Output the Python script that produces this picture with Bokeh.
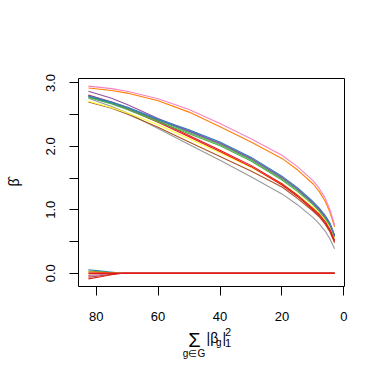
import math
from bokeh.plotting import figure
from bokeh.models import Range1d, FixedTicker, CustomJSTickFormatter, Label
from bokeh.embed import file_html
from bokeh.resources import INLINE

# ---- data ----
x_path = [82.5, 75, 70, 60, 50, 40, 30, 20, 15, 10, 8, 6, 4.5, 3]
pink    = [2.95, 2.91, 2.87, 2.75, 2.58, 2.36, 2.12, 1.86, 1.68, 1.46, 1.34, 1.18, 1.00, 0.76]
orange  = [2.92, 2.88, 2.84, 2.72, 2.54, 2.31, 2.07, 1.81, 1.63, 1.41, 1.29, 1.13, 0.96, 0.73]
blue    = [2.80, 2.70, 2.62, 2.43, 2.26, 2.07, 1.83, 1.53, 1.35, 1.13, 1.03, 0.91, 0.79, 0.60]
blue2   = [2.79, 2.69, 2.61, 2.42, 2.24, 2.05, 1.81, 1.51, 1.33, 1.11, 1.01, 0.89, 0.78, 0.59]
green   = [2.78, 2.68, 2.60, 2.41, 2.22, 2.03, 1.79, 1.49, 1.31, 1.10, 1.00, 0.88, 0.77, 0.58]
green2  = [2.77, 2.67, 2.58, 2.39, 2.20, 2.01, 1.77, 1.47, 1.29, 1.08, 0.98, 0.86, 0.75, 0.57]
purple  = [2.87, 2.76, 2.66, 2.44, 2.24, 2.05, 1.81, 1.51, 1.33, 1.11, 1.01, 0.89, 0.78, 0.59]
red     = [2.81, 2.70, 2.61, 2.40, 2.17, 1.94, 1.70, 1.41, 1.23, 1.02, 0.93, 0.81, 0.69, 0.52]
red2    = [2.80, 2.68, 2.59, 2.38, 2.15, 1.92, 1.68, 1.39, 1.21, 1.00, 0.91, 0.79, 0.67, 0.50]
yellow  = [2.71, 2.61, 2.53, 2.34, 2.12, 1.90, 1.67, 1.41, 1.24, 1.04, 0.95, 0.84, 0.72, 0.56]
brown   = [2.70, 2.60, 2.51, 2.30, 2.07, 1.84, 1.61, 1.36, 1.18, 0.98, 0.89, 0.77, 0.65, 0.48]
gray    = [2.76, 2.63, 2.53, 2.28, 2.03, 1.78, 1.52, 1.25, 1.08, 0.88, 0.78, 0.66, 0.54, 0.385]

x_zero = [82.5, 79, 76, 73, 71, 3]
z_blue   = [0.055, 0.037, 0.020, 0.006, 0.0, 0.0]
z_green  = [0.035, 0.024, 0.013, 0.004, 0.0, 0.0]
z_orange = [0.020, 0.014, 0.007, 0.002, 0.0, 0.0]
z_yellow = [-0.015, -0.010, -0.005, -0.002, 0.0, 0.0]
z_purple = [-0.035, -0.024, -0.013, -0.004, 0.0, 0.0]
z_pink   = [-0.050, -0.034, -0.018, -0.005, 0.0, 0.0]
z_brown  = [-0.065, -0.044, -0.024, -0.007, 0.0, 0.0]
z_red    = [-0.090, -0.061, -0.033, -0.010, 0.0, 0.0]
x_flat = [82.5, 3]
flat_red = [0.0, 0.0]

x_ticks = [0, 20, 40, 60, 80]
y_ticks = [0.0, 0.5, 1.0, 1.5, 2.0, 2.5, 3.0]

C = dict(red="#E41A1C", blue="#377EB8", green="#4DAF4A", purple="#984EA3",
         orange="#FF7F00", yellow="#FFFF33", brown="#A65628", pink="#F781BF",
         gray="#999999")

X0, X1 = 85.7, -0.2
Y0, Y1 = -0.21, 3.07
FW, FH = 266, 208
BL, BT = 78, 78

p = figure(frame_width=FW, frame_height=FH, output_backend="svg", toolbar_location=None,
           x_range=Range1d(X0, X1), y_range=Range1d(Y0, Y1),
           min_border_left=BL, min_border_top=BT, min_border_right=32, min_border_bottom=90)
p.background_fill_color = "white"
p.border_fill_color = "white"
p.outline_line_color = "black"
p.outline_line_width = 1
p.grid.visible = False

FONT = "Liberation Sans"
for ax in (p.xaxis[0], p.yaxis[0]):
    ax.axis_line_color = None
    ax.major_tick_line_color = "black"
    ax.major_tick_in = 0
    ax.major_tick_out = 9
    ax.minor_tick_line_color = None
    ax.major_label_text_font = FONT
    ax.major_label_text_font_size = "13px"
    ax.major_label_text_color = "black"
p.xaxis.major_label_standoff = 16
p.yaxis.major_label_standoff = 14

p.xaxis.ticker = FixedTicker(ticks=x_ticks)
p.yaxis.ticker = FixedTicker(ticks=y_ticks)
p.yaxis.formatter = CustomJSTickFormatter(
    code="return (Math.abs(tick - Math.round(tick)) < 1e-9) ? tick.toFixed(1) : '';")
p.yaxis.major_label_orientation = "vertical"

paths = [("gray", gray), ("brown", brown), ("yellow", yellow), ("red", red2),
         ("red", red), ("green", green2), ("green", green), ("blue", blue2),
         ("purple", purple), ("blue", blue), ("orange", orange), ("pink", pink)]
for c, ys in paths:
    p.line(x_path, ys, line_color=C[c], line_width=1.1)

zeros = [("blue", z_blue), ("green", z_green), ("orange", z_orange), ("yellow", z_yellow),
         ("purple", z_purple), ("pink", z_pink), ("brown", z_brown), ("red", z_red)]
for c, ys in zeros:
    p.line(x_zero, ys, line_color=C[c], line_width=1.1)
p.line(x_flat, flat_red, line_color=C["red"], line_width=1.5)

# ---- axis titles (picture pixel positions -> data coords) ----
def dx(px):
    return X0 - (px - BL) * (X0 - X1) / FW

def dy(py):
    return Y0 + ((BT + FH) - py) * (Y1 - Y0) / FH

def lab(text, px, py, size, side, align="left", angle=0.0):
    p.add_layout(Label(x=dx(px), y=dy(py), text=text, text_font=FONT,
                       text_font_size=size, text_align=align, text_baseline="middle",
                       angle=angle, text_color="black"), side)

lab("\u03b2\u0302", 13, 182, "14px", "left", align="center", angle=math.pi / 2)
lab("\u03a3", 194, 339, "20px", "below", align="center")
lab("g\u2208G", 193.5, 352.5, "10px", "below", align="center")
lab("|\u03b2", 206, 337, "14px", "below")
lab("g", 215.5, 341.5, "10px", "below")
lab("|", 222, 337, "14px", "below")
lab("2", 224.5, 331, "11px", "below")
lab("1", 224.5, 342.8, "11px", "below")

open("out.html", "w").write(file_html(p, INLINE))
